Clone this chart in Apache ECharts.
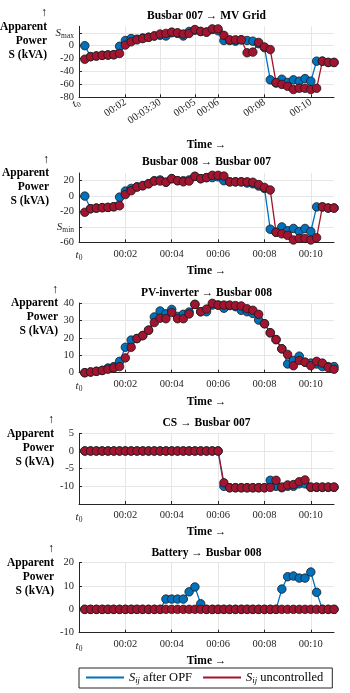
<!DOCTYPE html>
<html>
<head>
<meta charset="utf-8">
<script src="https://cdn.jsdelivr.net/npm/echarts@6/dist/echarts.min.js"></script>
<style>
html, body { margin: 0; padding: 0; background: #fff; }
#chart { width: 350px; height: 693px; }
</style>
</head>
<body>
<div id="chart"></div>
<script>
// sample times (seconds after t0), one every 15 s
const tSec = [15, 30, 45, 60, 75, 90, 105, 120, 135, 150, 165, 180, 195, 210, 225, 240, 255, 270, 285, 300, 315, 330,
	345, 360, 375, 390, 405, 420, 435, 450, 465, 480, 495, 510, 525, 540, 555, 570, 585, 600, 615, 630, 645, 660];

const titles = ['Busbar 007 → MV Grid', 'Busbar 008 → Busbar 007', 'PV-inverter → Busbar 008', 'CS → Busbar 007', 'Battery → Busbar 008'];

// S_ij after OPF / uncontrolled, kVA
const mvOpf = [0, -17, -16, -15, -14.5, -14, -1, 8, 11, 10, 12, 13, 15, 16, 15, 20, 19, 15, 22, 24, 22, 21, 25, 23,
	8, 8, 7, 9, 8, 7, 3, -3, -53, -58, -52, -57, -53, -55, -51, -55, -24, -24, -26, -26];
const mvUnc = [-21, -17, -16, -15, -14.5, -14, -12, 1, 6, 9, 11, 13, 15, 18, 19, 21, 20, 18, 19, 25, 22, 21, 26, 26,
	16, 9, 9, 9, -11, -10, 5, -2, -6, -57, -60, -63, -68, -66, -66, -68, -66, -24, -26, -26];

const b8Opf = [0, -16.4, -15.6, -15, -14.7, -13.8, -1.3, 6.5, 10, 12, 13.5, 16, 20, 21, 18, 22.6, 20, 20, 21, 25.6, 22.6, 24, 24, 25,
	20, 18.5, 18.5, 18.5, 17, 16, 13, 10, -43, -47, -40, -45, -42, -46, -42, -46, -14, -14, -15.5, -15.5];
const b8Unc = [-21, -16.4, -15.6, -15, -14.7, -13.8, -12.5, 2, 7, 11.7, 13.5, 16, 19.5, 19.5, 18, 22.6, 20, 18.5, 19.5, 25.6, 22.6, 24, 27, 27,
	26, 18.5, 18.5, 18.5, 18.5, 18, 15, 11.3, 8, -47, -49, -51, -57, -55, -55, -57, -54, -14, -15.5, -15.5];

const pvOpf = [0, 0.4, 0.8, 1.3, 2.7, 3.5, 6.5, 14.6, 18.7, 19.6, 21.3, 24.4, 32, 35.4, 33.8, 36.3, 32.3, 33.5, 34.8, 39.2, 35, 35, 38.8, 38.8,
	37, 38.5, 37.9, 35.8, 35, 34, 30.2, 28.1, 22.9, 19, 13.7, 5, 7, 9.5, 6, 5.5, 5, 3.5, 3.5, 3.5];
const pvUnc = [0, 0.4, 0.8, 1.3, 2, 2.7, 3.5, 8.5, 14.6, 19.6, 21.3, 24.4, 28.8, 31.3, 31, 34.6, 31, 31, 33.7, 39.2, 35, 36.5, 39.8, 38.8,
	38.8, 38.8, 38.5, 38.3, 36.7, 35.8, 33.5, 28.1, 22.9, 19, 13.7, 10.5, 4, 7, 6, 4, 6.5, 5.5, 3, 2];

const csOpf = [0, 0, 0, 0, 0, 0, 0, 0, 0, 0, 0, 0, 0, 0, 0, 0, 0, 0, 0, 0, 0, 0, 0, 0,
	-10, -10.4, -10.4, -10.4, -10.4, -10.4, -10.4, -10.4, -8.3, -10, -10.4, -10, -10, -9.3, -9.3, -10.3, -10.3, -10.3, -10.3, -10.3];
const csUnc = [0, 0, 0, 0, 0, 0, 0, 0, 0, 0, 0, 0, 0, 0, 0, 0, 0, 0, 0, 0, 0, 0, 0, 0,
	-9, -10.4, -10.4, -10.4, -10.4, -10.4, -10.4, -10.4, -10.3, -8.3, -10.2, -9.6, -9.5, -8.7, -8.2, -10.2, -10.2, -10.2, -10.2, -10.2];

const batOpf = [0, 0, 0, 0, 0, 0, 0, 0, 0, 0, 0, 0, 0, 0, 4.4, 4.4, 4.4, 4.4, 7.5, 9.6, 2.4, 0, 0, 0,
	0, 0, 0, 0, 0, 0, 0, 0, 0, 0, 8.7, 14, 14.3, 13.4, 13.4, 16, 7.3, 0, 0, 0];
const batUnc = [0, 0, 0, 0, 0, 0, 0, 0, 0, 0, 0, 0, 0, 0, 0, 0, 0, 0, 0, 0, 0, 0, 0, 0,
	0, 0, 0, 0, 0, 0, 0, 0, 0, 0, 0, 0, 0, 0, 0, 0, 0, 0, 0, 0];

const opfSeries = [mvOpf, b8Opf, pvOpf, csOpf, batOpf];
const uncSeries = [mvUnc, b8Unc, pvUnc, csUnc, batUnc];

// tick values (minutes / kVA)
const xTicksTop = [0, 2, 3.5, 5, 6, 8, 10];
const xTicks = [0, 2, 4, 6, 8, 10];
const yTicks = [
	[-80, -60, -40, -20, 0, 20],
	[-60, -40, -20, 0, 20],
	[0, 10, 20, 30, 40],
	[-10, -5, 0, 5],
	[-10, 0, 10, 20]
];
const yRange = [[-80, 30], [-60, 30], [0, 40], [-15, 5], [-10, 20]];

const font = 'Liberation Serif';
const blue = '#0072BD';
const red = '#A2142F';

// layout per panel
const layout = [
	{ top: 26.3, height: 71, nameRight: 32, timeGap: 42, titleY: 10 },
	{ top: 173, height: 69.3, nameRight: 30, timeGap: 23, titleY: 156.5 },
	{ top: 303, height: 69.7, nameRight: 21, timeGap: 23, titleY: 287.5 },
	{ top: 433.3, height: 70.7, nameRight: 25, timeGap: 22, titleY: 417.5 },
	{ top: 562.7, height: 70, nameRight: 25, timeGap: 22, titleY: 547 }
];

const richLbl = {
	i: { fontFamily: font, fontStyle: 'italic', fontSize: 11, color: '#262626' },
	sub: { fontFamily: font, fontSize: 7.5, color: '#262626', padding: [6, 0, 0, 0] }
};

function pad(n) { return (n < 10 ? '0' : '') + n; }
function fmtTime(v) {
	if (v === 0) return '{i|t}{sub|0}';
	const m = Math.floor(v), s = Math.round((v - m) * 60);
	return '00:' + pad(m) + (s ? ':' + pad(s) : '');
}

let grid = [], xAxis = [], yAxis = [], series = [], title = [];
layout.forEach((L, p) => {
	grid.push({ left: 79, right: 16, top: L.top, height: L.height, containLabel: false, outerBoundsMode: 'none' });
	title.push({
		text: titles[p], left: 206.5, top: L.titleY, textAlign: 'center', padding: 0,
		textStyle: { fontFamily: font, fontSize: 11.5, fontWeight: 'bold', color: '#000' }
	});
	const ticks = p === 0 ? xTicksTop : xTicks;
	xAxis.push({
		gridIndex: p, type: 'value', min: 0, max: 11,
		name: 'Time →', nameLocation: 'middle', nameGap: L.timeGap, nameMoveOverlap: false,
		nameTextStyle: { fontFamily: font, fontSize: 11.5, fontWeight: 'bold', color: '#000' },
		axisLine: { onZero: false, lineStyle: { color: '#262626', width: 1 } },
		axisTick: { inside: true, length: 3, customValues: ticks, lineStyle: { color: '#262626' } },
		axisLabel: {
			customValues: ticks, formatter: fmtTime, rich: richLbl,
			fontFamily: font, fontSize: 10.5, color: '#262626',
			rotate: p === 0 ? 33 : 0, margin: p === 0 ? 4 : 6
		},
		splitLine: { show: true, lineStyle: { color: '#e6e6e6', width: 1 } }
	});
	yAxis.push({
		gridIndex: p, type: 'value', min: yRange[p][0], max: yRange[p][1],
		name: '{a|↑}\nApparent\nPower\nS (kVA)', nameLocation: 'end', nameGap: 20.5, nameMoveOverlap: false,
		nameTextStyle: {
			fontFamily: font, fontSize: 11.5, fontWeight: 'bold', color: '#000', lineHeight: 14,
			align: 'right', verticalAlign: 'top', padding: [0, L.nameRight, 0, 0],
			rich: { a: { fontFamily: font, fontSize: 12, fontWeight: 'normal', lineHeight: 14, color: '#000' } }
		},
		axisLine: { show: true, onZero: false, lineStyle: { color: '#262626', width: 1 } },
		axisTick: { show: true, inside: true, length: 3, customValues: yTicks[p], lineStyle: { color: '#262626' } },
		axisLabel: {
			customValues: yTicks[p], rich: richLbl,
			fontFamily: font, fontSize: 10.5, color: '#262626', margin: 5,
			formatter: v => {
				if (p === 0 && v === 20) return '{i|S}{sub|max}';
				if (p === 1 && v === -40) return '{i|S}{sub|min}';
				return String(v);
			}
		},
		splitLine: { show: true, lineStyle: { color: '#e6e6e6', width: 1 } }
	});
	[[opfSeries[p], blue, 'after OPF'], [uncSeries[p], red, 'uncontrolled']].forEach(([vals, col, nm]) => {
		series.push({
			name: nm, type: 'line', xAxisIndex: p, yAxisIndex: p,
			data: vals.map((v, i) => [tSec[i] / 60, v]),
			symbol: 'circle', symbolSize: 8.5, showSymbol: true,
			lineStyle: { color: col, width: 1.3 },
			itemStyle: { color: col, borderColor: '#1a1a1a', borderWidth: 0.8 },
			emphasis: { disabled: true }
		});
	});
});

const chart = echarts.init(document.getElementById('chart'));
chart.setOption({
	animation: false,
	title: title,
	grid: grid,
	xAxis: xAxis,
	yAxis: yAxis,
	legend: {
		data: ['after OPF', 'uncontrolled'],
		left: 79, top: 668, padding: [3, 9, 3, 7], itemGap: 11,
		itemWidth: 38, itemHeight: 2, icon: 'rect',
		itemStyle: { borderWidth: 0 },
		borderColor: '#262626', borderWidth: 1,
		formatter: name => '{i|S}{sub|ij} ' + name,
		textStyle: {
			fontFamily: font, fontSize: 12.5, color: '#000',
			rich: {
				i: { fontFamily: font, fontStyle: 'italic', fontSize: 12.5, color: '#000' },
				sub: { fontFamily: font, fontStyle: 'italic', fontSize: 8.5, color: '#000', padding: [6, 0, 0, 0] }
			}
		}
	},
	series: series
});
window.addEventListener('resize', () => chart.resize());
</script>
</body>
</html>
